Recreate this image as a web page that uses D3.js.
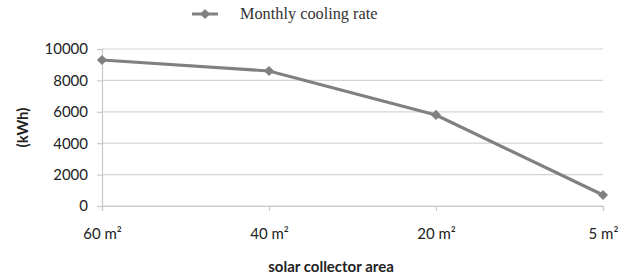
<!DOCTYPE html>
<html><head><meta charset="utf-8">
<script src="https://cdn.jsdelivr.net/npm/d3@7"></script>
<style>body{margin:0;background:#fff}svg{display:block}</style>
</head><body>
<svg id="c" width="628" height="280"></svg>
<script>
const categories = ["60 m²", "40 m²", "20 m²", "5 m²"];
const values = [9300, 8600, 5800, 700];
const yTicks = [0, 2000, 4000, 6000, 8000, 10000];
const seriesName = "Monthly cooling rate";

const svg = d3.select("#c");
const m = {l: 102, r: 25, t: 49, b: 74};
const W = 628, H = 280;
const x = d3.scalePoint().domain(categories).range([m.l, W - m.r]).padding(0);
const y = d3.scaleLinear().domain([0, 10000]).range([H - m.b, m.t]);
const lineColor = "#808080";
const font = "Lato, 'Open Sans', 'Liberation Sans', sans-serif";

// gridlines
svg.append("g").selectAll("line").data(yTicks).join("line")
  .attr("x1", m.l).attr("x2", W - m.r)
  .attr("y1", d => y(d)).attr("y2", d => y(d))
  .attr("stroke", "#d4d4d4").attr("stroke-width", 1.2);

// y axis
const ya = svg.append("g").attr("transform", `translate(${m.l},0)`)
  .call(d3.axisLeft(y).tickValues(yTicks).tickFormat(d3.format("d")).tickSize(5).tickPadding(9));
ya.select(".domain").attr("stroke", "#c8c8c8").attr("stroke-width", 1.2);
ya.selectAll(".tick line").attr("stroke", "#c8c8c8").attr("stroke-width", 1.2);
ya.selectAll("text").attr("font-family", font).attr("font-size", 15).attr("fill", "#222");

// x axis
const xa = svg.append("g").attr("transform", `translate(0,${y(0)})`)
  .call(d3.axisBottom(x).tickSize(5).tickPadding(17));
xa.select(".domain").attr("stroke", "#c8c8c8").attr("stroke-width", 1.2);
xa.selectAll(".tick line").attr("stroke", "#c8c8c8").attr("stroke-width", 1.2);
xa.selectAll("text").attr("font-family", font).attr("font-size", 15).attr("fill", "#222");

// line
const data = categories.map((c, i) => ({c, v: values[i]}));
svg.append("path").datum(data)
  .attr("fill", "none").attr("stroke", lineColor).attr("stroke-width", 3.2)
  .attr("d", d3.line().x(d => x(d.c)).y(d => y(d.v)));
const diamond = d3.symbol().type(d3.symbolSquare).size(52);
svg.append("g").selectAll("path").data(data).join("path")
  .attr("transform", d => `translate(${x(d.c)},${y(d.v)}) rotate(45)`)
  .attr("d", diamond).attr("fill", lineColor);

// axis titles
svg.append("text").attr("x", 331).attr("y", 272).attr("text-anchor", "middle")
  .attr("font-family", font).attr("font-size", 15).attr("font-weight", 700).attr("fill", "#222")
  .text("solar collector area");
svg.append("text").attr("transform", `translate(28,${(y(0)+y(10000))/2}) rotate(-90)`)
  .attr("text-anchor", "middle").attr("font-family", font).attr("font-size", 15)
  .attr("font-weight", 700).attr("fill", "#222").text("(kWh)");

// legend
const lg = svg.append("g").attr("transform", "translate(192,14)");
lg.append("line").attr("x1", 0).attr("x2", 26).attr("y1", 0).attr("y2", 0)
  .attr("stroke", lineColor).attr("stroke-width", 3);
lg.append("path").attr("transform", "translate(13,0) rotate(45)").attr("d", diamond).attr("fill", lineColor);
lg.append("text").attr("x", 48).attr("y", 5).attr("font-family", "'Liberation Serif', 'DejaVu Serif', serif")
  .attr("font-size", 16.3).attr("fill", "#333").text(seriesName);
</script>
</body></html>
